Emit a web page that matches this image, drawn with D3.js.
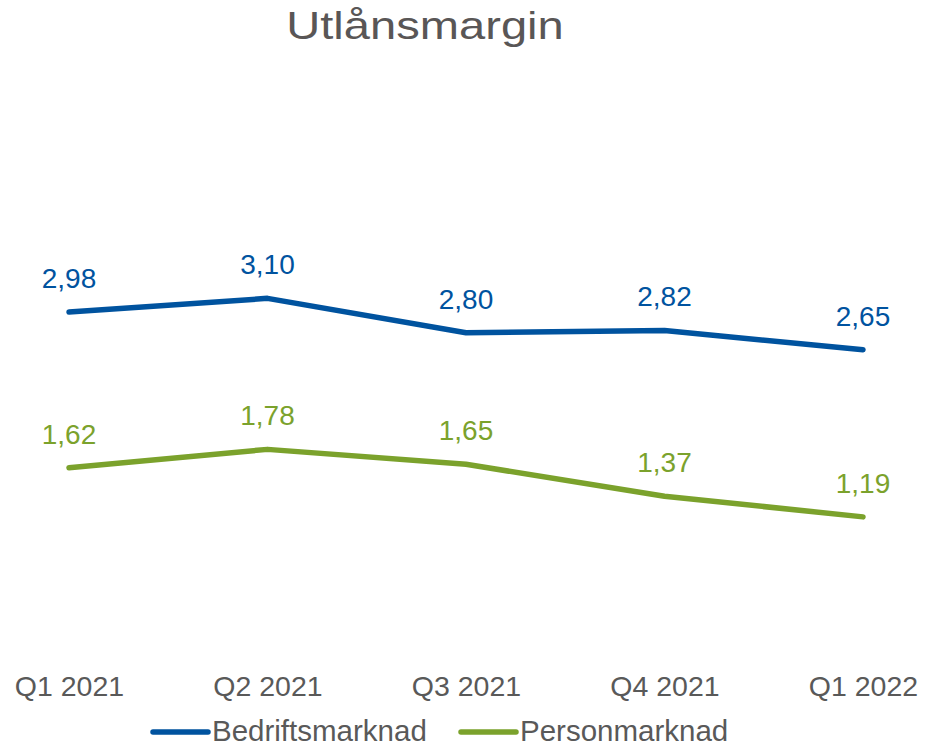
<!DOCTYPE html>
<html>
<head>
<meta charset="utf-8">
<script src="https://cdn.jsdelivr.net/npm/d3@7"></script>
<style>
  body { margin: 0; background: #fff; }
  svg { display: block; font-family: "Liberation Sans", Arial, sans-serif; }
</style>
</head>
<body>
<div class="outer-container"></div>
<script>
const quarters = ['Q1 2021', 'Q2 2021', 'Q3 2021', 'Q4 2021', 'Q1 2022']
const bedrift = [2.98, 3.10, 2.80, 2.82, 2.65]
const person = [1.62, 1.78, 1.65, 1.37, 1.19]
const seriesNames = ['Bedriftsmarknad', 'Personmarknad']
const seriesColors = ['#00539f', '#7ba22c']

const w = 928
const h = 746

const xScale = d3.scalePoint()
  .domain(quarters)
  .range([69, 863])

const yScale = d3.scaleLinear()
  .domain([0, 5])
  .range([653, 81])

const svg = d3.select('.outer-container')
  .append('svg')
  .attr('width', w)
  .attr('height', h)

// title glyphs are wider than tall in the original
svg.append('text')
  .attr('transform', 'translate(425, 39) scale(1.24, 1)')
  .attr('text-anchor', 'middle')
  .attr('font-size', 38)
  .attr('fill', '#595656')
  .text('Utlånsmargin')

const xAxis = d3.axisBottom(xScale).tickSize(0).tickPadding(0)

svg.append('g')
  .attr('transform', 'translate(0, 676)')
  .call(xAxis)
  .call(g => g.select('.domain').remove())
  .selectAll('text')
    .attr('font-size', 28.5)
    .attr('fill', '#595959')
    .attr('font-family', '"Liberation Sans", Arial, sans-serif')

const series = [bedrift, person]
const line = d3.line()
  .x((d, i) => xScale(quarters[i]))
  .y(d => yScale(d))

series.forEach((values, s) => {
  svg.append('path')
    .datum(values)
    .attr('d', line)
    .attr('fill', 'none')
    .attr('stroke', seriesColors[s])
    .attr('stroke-width', 5.5)
    .attr('stroke-linecap', 'round')
    .attr('stroke-linejoin', 'round')

  svg.selectAll('.lbl' + s)
    .data(values)
    .enter()
    .append('text')
      .attr('x', (d, i) => xScale(quarters[i]))
      .attr('y', d => yScale(d) - 24)
      .attr('text-anchor', 'middle')
      .attr('font-size', 28)
      .attr('fill', seriesColors[s])
      .text(d => d3.format('.2f')(d).replace('.', ','))
})

const legendX = [153, 461]
const legend = svg.append('g')
  .selectAll('g')
  .data(seriesNames)
  .enter()
  .append('g')
    .attr('transform', (d, i) => 'translate(' + legendX[i] + ', 732)')

legend.append('line')
  .attr('x1', 0)
  .attr('x2', 55)
  .attr('stroke', (d, i) => seriesColors[i])
  .attr('stroke-width', 5.5)
  .attr('stroke-linecap', 'round')

legend.append('text')
  .attr('x', 59)
  .attr('y', 9)
  .attr('font-size', 29.5)
  .attr('fill', '#595959')
  .text(d => d)
</script>
</body>
</html>
